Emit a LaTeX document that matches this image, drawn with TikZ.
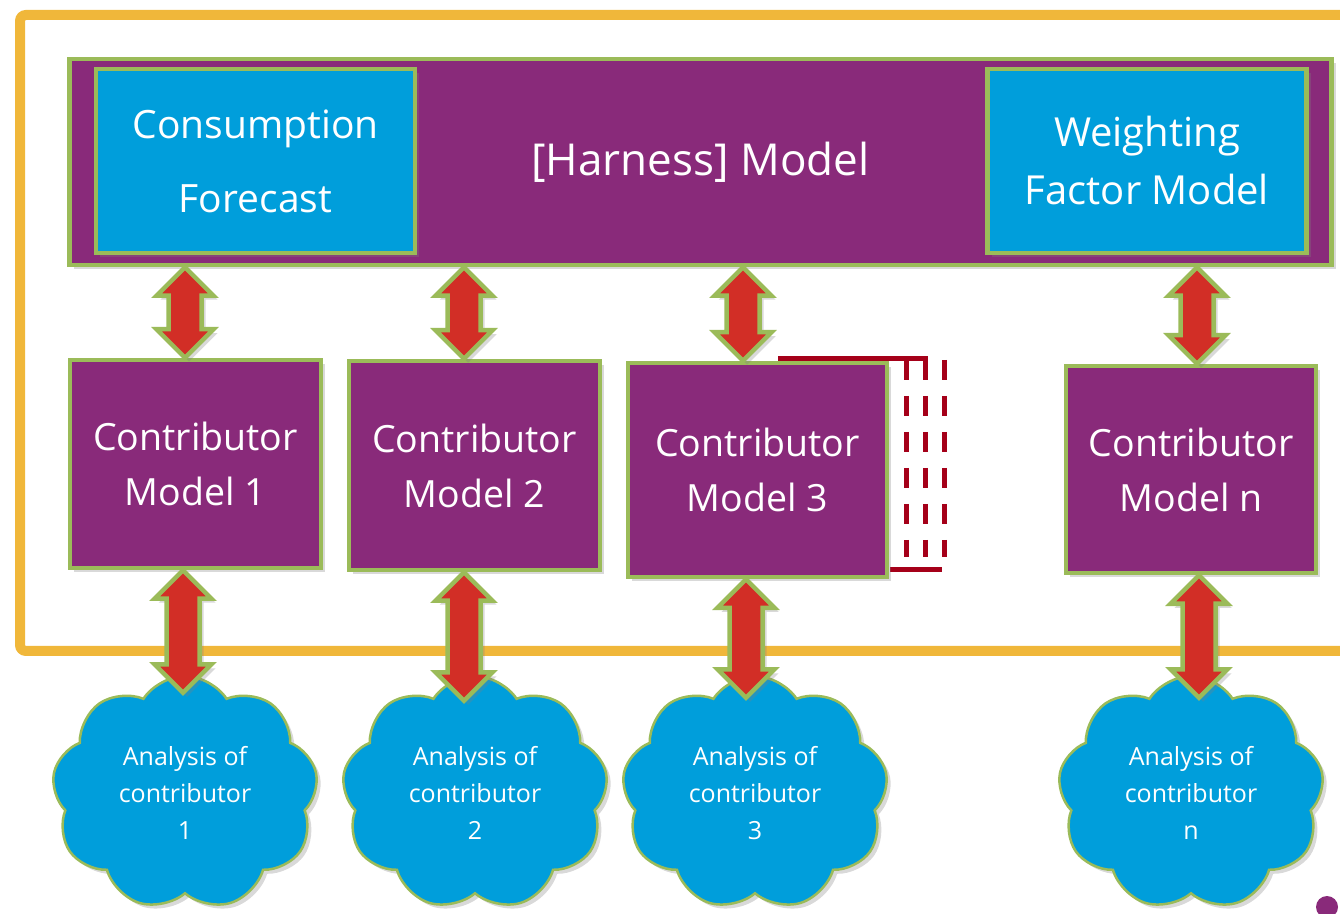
\documentclass[tikz,border=0pt]{standalone}
\usepackage{fontspec}
\setmainfont{Open Sans}
\usetikzlibrary{shapes,arrows,shadows,calc}

\definecolor{harnesspurple}{RGB}{137,42,122}
\definecolor{modelblue}{RGB}{0,158,219}
\definecolor{edgegreen}{RGB}{155,187,89}
\definecolor{frameorange}{RGB}{240,183,58}
\definecolor{arrowred}{RGB}{210,46,38}
\definecolor{stackred}{RGB}{165,0,25}

% two-way arrow between two anchors, at a given x
\newcommand{\twoway}[3]{\path let \p1=(#2), \p2=(#3) in
  node[twoarrow, minimum height={\y1-\y2}] at (#1,{(\y1+\y2)/2}) {};}

\begin{document}
\begin{tikzpicture}[x=1pt,y=1pt]
\tikzstyle{boxshadow}=[drop shadow={shadow xshift=4pt,shadow yshift=-4pt,opacity=.3}]
\tikzstyle{bigbox}=[rectangle,fill=harnesspurple,draw=edgegreen,line width=4.5pt,text=white,align=center,boxshadow]
\tikzstyle{bluebox}=[bigbox,fill=modelblue,minimum width=319,minimum height=184]
\tikzstyle{contrib}=[bigbox,font=\fontsize{37.5}{55}\selectfont]
\tikzstyle{analysis}=[cloud,cloud puffs=9,cloud puff arc=115,aspect=1.1,fill=modelblue,draw=edgegreen,line width=2.5pt,
  minimum width=266,minimum height=234,inner sep=0pt,text=white,align=center,font=\fontsize{25}{37}\selectfont,boxshadow]
\tikzstyle{twoarrow}=[double arrow,rotate=90,fill=arrowred,draw=edgegreen,line width=4.5pt,inner sep=14.25pt,
  minimum width=1pt,double arrow head extend=12pt,boxshadow]
\tikzstyle{stackline}=[stackred,line width=5pt]

\useasboundingbox (0,0) rectangle (1340,913);
\clip (0,0) rectangle (1340,913);
\draw[frameorange,line width=10pt,rounded corners=6pt] (20,898) rectangle (1370,262);

\node[bigbox,minimum width=1262,minimum height=206,font=\fontsize{44}{50}\selectfont] (harness) at (700.5,751) {[Harness] Model};
\node[bluebox,font=\fontsize{39}{74}\selectfont] (forecast) at (255.5,752) {Consumption\\Forecast};
\node[bluebox,font=\fontsize{40}{58}\selectfont] (weighting) at (1147,752) {Weighting\\Factor Model};

% more models stacked behind model 3
\draw[stackline] (778,554) -- (925,554) -- (925,548);
\foreach \x in {906,925,944}
  \draw[stackline,dash pattern=on 20pt off 16pt] (\x,553) -- (\x,356);
\draw[stackline] (890,343) -- (942,343);

\node[contrib,minimum width=251,minimum height=208] (c1) at (195.5,449) {Contributor\\Model 1};
\node[contrib,minimum width=251,minimum height=209] (c2) at (474.5,447.5) {Contributor\\Model 2};
\node[contrib,minimum width=259,minimum height=214] (c3) at (757.5,443) {Contributor\\Model 3};
\node[contrib,minimum width=250,minimum height=207] (cn) at (1191,443.5) {Contributor\\Model n};

\node[analysis] (a1) at (185,120) {Analysis of\\contributor\\1};
\node[analysis] (a2) at (475,120) {Analysis of\\contributor\\2};
\node[analysis] (a3) at (755,120) {Analysis of\\contributor\\3};
\node[analysis] (an) at (1191,120) {Analysis of\\contributor\\n};

\twoway{185}{harness.south}{c1.north}
\twoway{464}{harness.south}{c2.north}
\twoway{743}{harness.south}{c3.north}
\twoway{1197}{harness.south}{cn.north}
\twoway{183}{c1.south}{[yshift=-18pt]a1.north}
\twoway{464}{c2.south}{[yshift=-26pt]a2.north}
\twoway{746}{c3.south}{[yshift=-23pt]a3.north}
\twoway{1199}{cn.south}{[yshift=-23pt]an.north}

\fill[harnesspurple] (1327,6) circle (11pt);
\end{tikzpicture}
\end{document}
